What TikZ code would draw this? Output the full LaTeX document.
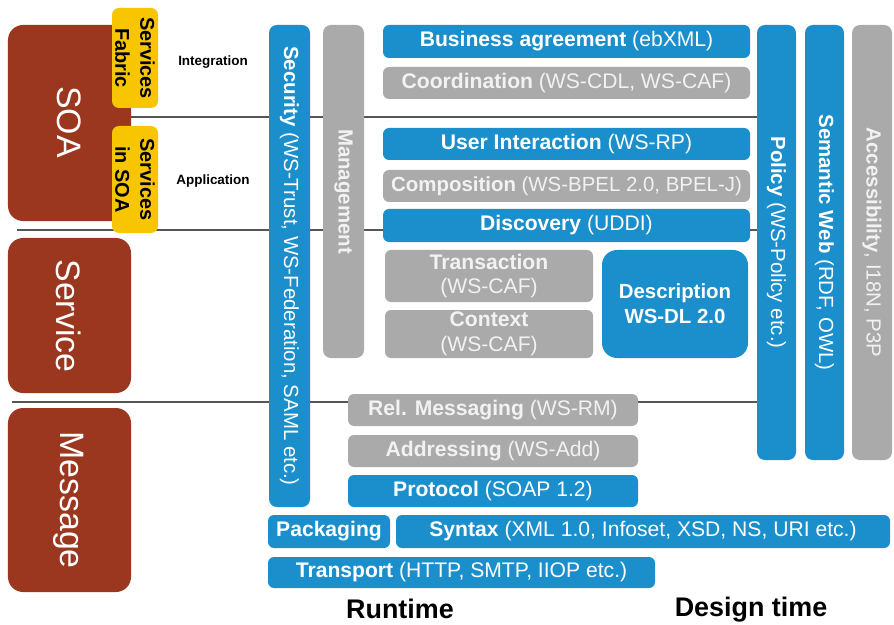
\documentclass[tikz,border=0pt]{standalone}
\usepackage{fontspec}
\setmainfont{Liberation Sans}

\definecolor{wsblue}{RGB}{27,143,203}
\definecolor{wsgray}{RGB}{170,170,170}
\definecolor{soabrown}{RGB}{155,55,30}
\definecolor{fabyellow}{RGB}{247,198,0}
\definecolor{rulegray}{RGB}{85,85,85}
\definecolor{paletext}{RGB}{242,242,242}

\tikzset{
  base/.style={inner sep=0pt, outer sep=0pt, rounded corners=6bp, align=center},
  boxfont/.style={font=\fontsize{21.2}{25}\selectfont},
  barfont/.style={font=\fontsize{20.5}{23}\selectfont},
  bluebox/.style={base, boxfont, fill=wsblue, text=white},
  graybox/.style={base, boxfont, fill=wsgray, text=paletext},
  bluebar/.style={base, fill=wsblue, rounded corners=8bp},
  graybar/.style={base, fill=wsgray, rounded corners=8bp},
  layerbox/.style={base, fill=soabrown, rounded corners=15bp},
  tagbox/.style={base, fill=fabyellow, rounded corners=7bp},
  vlabel/.style={rotate=-90, inner sep=0pt, align=center},
  bartext/.style={vlabel, barfont, text=white},
  graybartext/.style={vlabel, barfont, text=paletext},
  layertext/.style={vlabel, text=white, font=\fontsize{34}{36}\selectfont},
  tagtext/.style={vlabel, text=black, font=\bfseries\fontsize{20}{25}\selectfont},
  zonetext/.style={inner sep=0pt, font=\bfseries\fontsize{13.5}{15}\selectfont},
  foottext/.style={inner sep=0pt, font=\bfseries\fontsize{27}{30}\selectfont},
  sepline/.style={draw=rulegray, line width=1.6bp},
}

% box from its corners: name, x1, y1, x2, y2, style, text
\newcommand\cornerbox[7]{%
  \pgfmathsetmacro\bcx{(#2+#4)/2}%
  \pgfmathsetmacro\bcy{(#3+#5)/2}%
  \pgfmathsetmacro\bw{#4-#2}%
  \pgfmathsetmacro\bh{#5-#3}%
  \node[#6, minimum width=\bw bp, minimum height=\bh bp] (#1) at (\bcx,\bcy) {#7};}

\begin{document}
\begin{tikzpicture}[x=1bp, y=-1bp]
\useasboundingbox (0,0) rectangle (894,625);

% layers on the left
\cornerbox{soa}{8}{25}{131}{221}{layerbox}{}
\cornerbox{service}{8}{238}{131}{393}{layerbox}{}
\cornerbox{message}{8}{408}{131}{592}{layerbox}{}
\node[layertext] (soatxt) at (69,122) {SOA};
\node[layertext] (servicetxt) at (69,316) {Service};
\node[layertext] (messagetxt) at (69,500) {Message};

% right-hand vertical bars
\cornerbox{policy}{757}{25}{796}{460}{bluebar}{}
\cornerbox{semweb}{805}{25}{844}{460}{bluebar}{}
\cornerbox{access}{852}{25}{892}{460}{graybar}{}

% separating rules
\coordinate (r2start) at (17,230);
\coordinate (r3start) at (12,402);
\draw[sepline] (soa.east |- 0,117) -- (policy.west |- 0,117);
\draw[sepline] (r2start) -- (policy.west |- r2start);
\draw[sepline] (r3start) -- (policy.west |- r3start);

% tags next to SOA
\cornerbox{fabric}{112}{8}{158}{108}{tagbox}{}
\cornerbox{insoa}{112}{126}{158}{233}{tagbox}{}
\node[tagtext] (fabrictxt) at (fabric.center) {Services\\Fabric};
\node[tagtext] (insoatxt) at (insoa.center) {Services\\in SOA};

\node[zonetext] (integration) at (213,62) {Integration};
\node[zonetext] (application) at (213,181) {Application};

% vertical bars
\cornerbox{security}{269}{25}{310}{507}{bluebar}{}
\cornerbox{mgmt}{323}{25}{364}{358}{graybar}{}
\node[bartext] (securitytxt) at (security.center)
  {\textbf{Security} (WS-Trust, WS-Federation, SAML etc.)};
\node[graybartext] (mgmttxt) at (mgmt.center) {\textbf{Management}};
\node[bartext] (policytxt) at (policy.center)
  {\textbf{Policy} (WS-Policy etc.)};
\node[bartext] (semwebtxt) at (semweb.center)
  {\textbf{Semantic Web} (RDF, OWL)};
\node[graybartext] (accesstxt) at (access.center)
  {\textbf{Accessibility}, I18N, P3P};

% stack of horizontal boxes
\cornerbox{business}{383}{25}{750}{58}{bluebox}{\textbf{Business agreement} (ebXML)}
\cornerbox{coord}{383}{67}{750}{99}{graybox}{\textbf{Coordination} (WS-CDL, WS-CAF)}
\cornerbox{userint}{383}{128}{750}{160}{bluebox}{\textbf{User Interaction} (WS-RP)}
\cornerbox{compos}{383}{170}{750}{202}{graybox, font=\fontsize{20.5}{24}\selectfont}{\textbf{Composition} (WS-BPEL 2.0, BPEL-J)}
\cornerbox{discov}{383}{209}{750}{242}{bluebox}{\textbf{Discovery} (UDDI)}
\cornerbox{trans}{385}{250}{593}{302}{graybox}{\textbf{Transaction}\\(WS-CAF)}
\cornerbox{context}{385}{310}{593}{358}{graybox}{\textbf{Context}\\(WS-CAF)}
\cornerbox{descr}{602}{250}{748}{358}{bluebox, rounded corners=15bp, font=\bfseries\fontsize{20.5}{25}\selectfont}{Description\\WS-DL 2.0}
\cornerbox{relmsg}{348}{394}{638}{426}{graybox}{\textbf{Rel. Messaging} (WS-RM)}
\cornerbox{addr}{348}{435}{638}{467}{graybox}{\textbf{Addressing} (WS-Add)}
\cornerbox{proto}{348}{475}{638}{507}{bluebox}{\textbf{Protocol} (SOAP 1.2)}
\cornerbox{packg}{268}{515}{390}{548}{bluebox}{\textbf{Packaging}}
\cornerbox{syntax}{396}{515}{890}{548}{bluebox}{\textbf{Syntax} (XML 1.0, Infoset, XSD, NS, URI etc.)}
\cornerbox{transp}{268}{557}{655}{588}{bluebox}{\textbf{Transport} (HTTP, SMTP, IIOP etc.)}

% footer
\node[foottext] (runtime) at (400,609) {Runtime};
\node[foottext] (designtime) at (751,610) {Design time};
\end{tikzpicture}
\end{document}
